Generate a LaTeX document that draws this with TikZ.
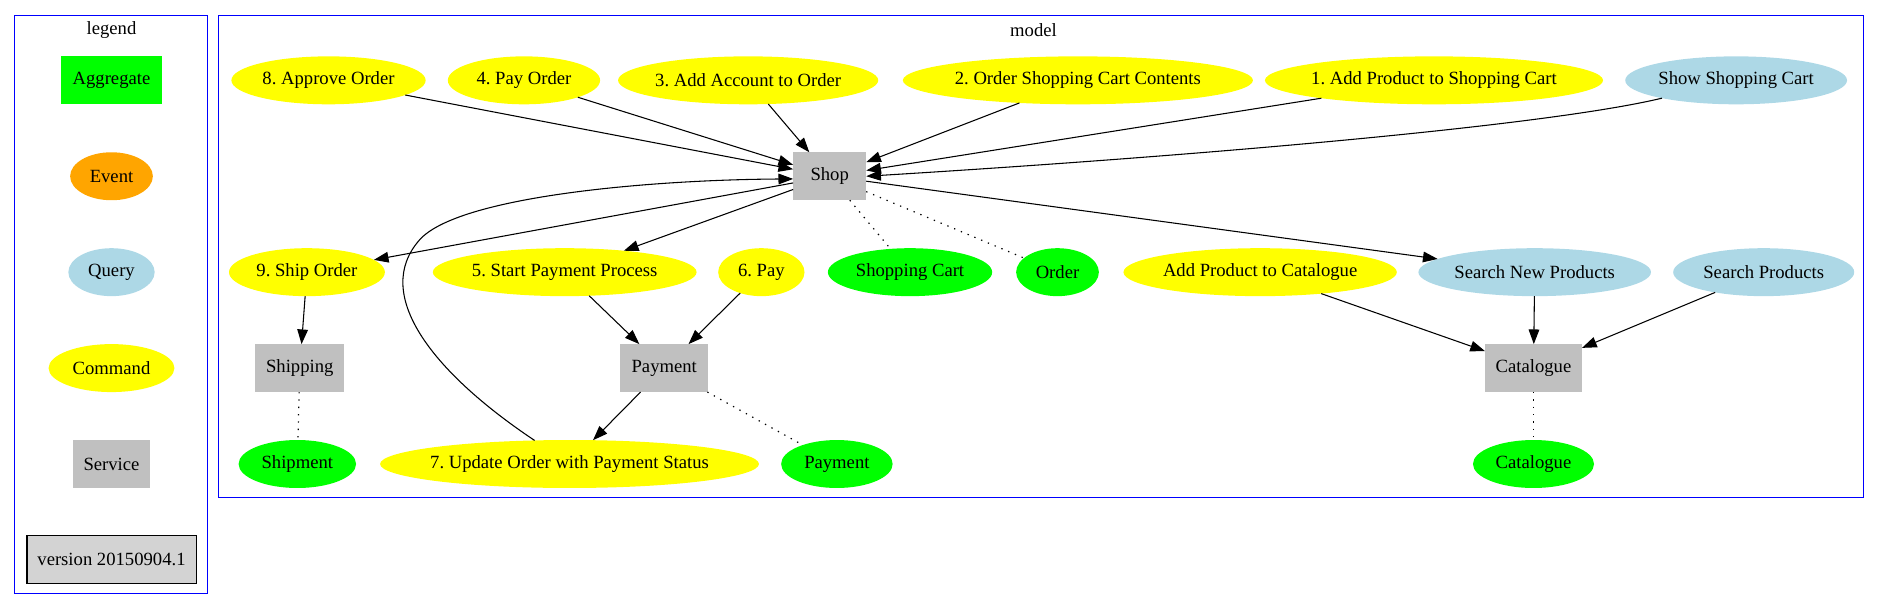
\documentclass[tikz,border=0pt]{standalone}
\usepackage{fontspec}
\setmainfont{Liberation Serif}
\usetikzlibrary{shapes.geometric,arrows.meta}
\definecolor{gvgreen}{HTML}{00FF00}
\definecolor{gvyellow}{HTML}{FFFF00}
\definecolor{gvblue}{HTML}{ADD8E6}
\definecolor{gvorange}{HTML}{FFA500}
\definecolor{gvgray}{HTML}{C0C0C0}
\definecolor{gvlight}{HTML}{D3D3D3}
\definecolor{gvborder}{HTML}{0000FF}
\frenchspacing
\begin{document}
\begin{tikzpicture}[x=0.9pt,y=-0.9pt,
  every node/.style={font=\fontsize{14}{16}\selectfont, inner sep=0pt, outer sep=0pt},
  el/.style={ellipse, minimum height=36pt, minimum width=#1*0.9pt},
  bx/.style={rectangle, minimum height=36pt, minimum width=#1*0.9pt},
  cmd/.style={el=#1, fill=gvyellow},
  qry/.style={el=#1, fill=gvblue},
  agg/.style={el=#1, fill=gvgreen},
  svc/.style={bx=#1, fill=gvgray},
  cluster/.style={draw=gvborder, line width=0.9pt},
  flow/.style={draw, line width=0.8pt, -{Triangle[length=11pt,width=8pt]}},
  assoc/.style={draw, line width=0.9pt, dash pattern=on 1pt off 4.5pt},
]
\useasboundingbox (0,0) rectangle (1568,510);
% clusters
\draw[cluster] (12,13) rectangle (173,495);
\draw[cluster] (182,13) rectangle (1554,415);
\node (tlegend) at (93,25) {legend};
\node (tmodel) at (862,25) {model};
% legend
\node[bx=84, fill=gvgreen] (lagg) at (93,67) {Aggregate};
\node[el=69, fill=gvorange, label={center:Event}] (lev) at (93,147) {};
\node[qry=72, label={center:Query}] (lq) at (93,227) {};
\node[cmd=105, label={center:Command}] (lc) at (93,307) {};
\node[svc=64] (ls) at (93,387) {Service};
\node[bx=141, fill=gvlight, draw=black, line width=0.8pt] (lver) at (93,467) {version 20150904.1};
% row 1
\node[cmd=162, label={center:8. Approve Order}] (n8) at (274,67) {};
\node[cmd=127, label={center:4. Pay Order}] (n4) at (437,67) {};
\node[cmd=217, label={center:3. Add Account to Order}] (n3) at (624,67) {};
\node[cmd=292, label={center:2. Order Shopping Cart Contents}] (n2) at (899,67) {};
\node[cmd=282, label={center:1. Add Product to Shopping Cart}] (n1) at (1196,67) {};
\node[qry=185, label={center:Show Shopping Cart}] (nssc) at (1448,67) {};
% shop
\node[svc=61] (shop) at (692,147) {Shop};
% row 2
\node[cmd=130, label={center:9. Ship Order}] (n9) at (256,227) {};
\node[cmd=220, label={center:5. Start Payment Process}] (n5) at (471,227) {};
\node[cmd=72, label={center:6. Pay}] (n6) at (635,227) {};
\node[agg=137, label={center:Shopping Cart}] (ncart) at (759,227) {};
\node[agg=69, label={center:Order}] (norder) at (882,227) {};
\node[cmd=228, label={center:Add Product to Catalogue}] (napc) at (1051,227) {};
\node[qry=194, label={center:Search New Products}] (nsnp) at (1280,227) {};
\node[qry=151, label={center:Search Products}] (nsp) at (1471,227) {};
% row 3
\node[svc=74] (shipping) at (250,307) {Shipping};
\node[svc=73] (payment) at (554,307) {Payment};
\node[svc=81] (catalogue) at (1279,307) {Catalogue};
% row 4
\node[agg=98, label={center:Shipment}] (nshipment) at (248,387) {};
\node[cmd=316, label={center:7. Update Order with Payment Status}] (n7) at (475,387) {};
\node[agg=93, label={center:Payment}] (npayment) at (698,387) {};
\node[agg=101, label={center:Catalogue}] (ncatalogue) at (1279,387) {};
% edges into shop
\draw[flow] (n8) -- (shop);
\draw[flow] (n4) -- (shop);
\draw[flow] (n3) -- (shop);
\draw[flow] (n2) -- (shop);
\draw[flow] (n1) -- (shop);
\draw[flow] (nssc) .. controls (1290,105) and (1000,130) .. (shop.east);
\draw[flow] (n7.146) .. controls (360,310) and (310,245) .. (350,200)
  .. controls (382,164) and (540,150) .. ([yshift=-2pt]shop.west);
% edges out of shop
\draw[flow] (shop) -- (n9);
\draw[flow] (shop) -- (n5);
\draw[flow] (shop) -- (nsnp);
\draw[assoc] (shop) -- (ncart);
\draw[assoc] (shop) -- (norder);
% lower edges
\draw[flow] (n9) -- (shipping);
\draw[flow] (n5) -- (payment);
\draw[flow] (n6) -- (payment);
\draw[assoc] (shipping) -- (nshipment);
\draw[flow] (payment) -- (n7);
\draw[assoc] (payment) -- (npayment);
\draw[flow] (napc) -- (catalogue);
\draw[flow] (nsnp) -- (catalogue);
\draw[flow] (nsp) -- (catalogue);
\draw[assoc] (catalogue) -- (ncatalogue);
\end{tikzpicture}
\end{document}
